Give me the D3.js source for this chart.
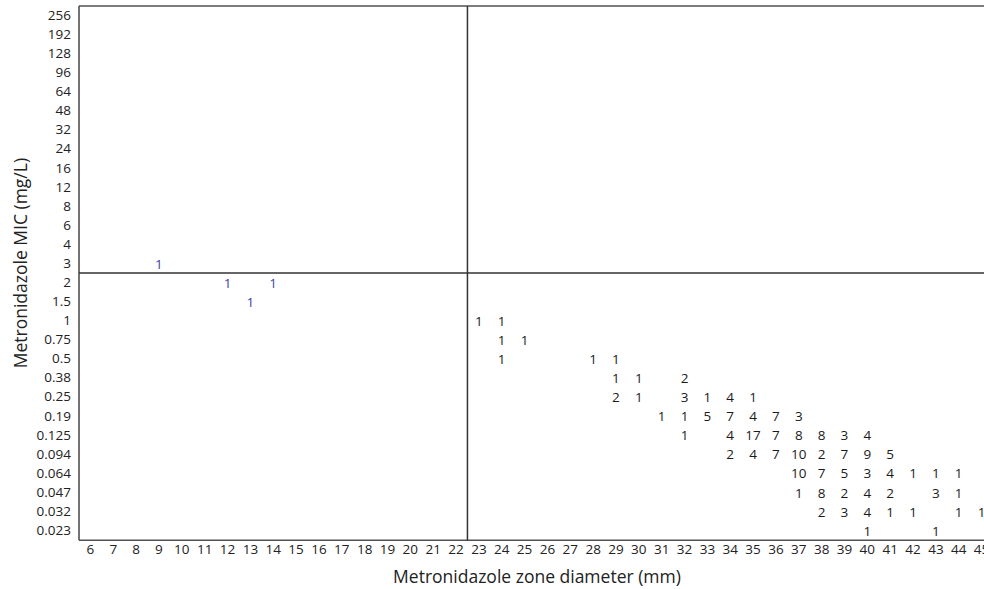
<!DOCTYPE html>
<html>
<head>
<meta charset="utf-8">
<script src="https://cdn.jsdelivr.net/npm/d3@7"></script>
<style>
  html, body { margin: 0; padding: 0; background: #fff; overflow: hidden; }
  svg { display: block; font-family: "Open Sans", "Noto Sans", sans-serif; }
</style>
</head>
<body>
<svg id="chart" width="984" height="589"></svg>
<script>
// Zone diameter categories (mm) along the bottom
const zoneDiameters = d3.range(6, 47);
// MIC categories (mg/L), listed from the top row down
const micLevels = ["256","192","128","96","64","48","32","24","16","12","8","6","4","3",
                   "2","1.5","1","0.75","0.5","0.38","0.25","0.19","0.125","0.094",
                   "0.064","0.047","0.032","0.023"];

// Isolate counts per cell: [zone diameter, MIC, count]
const resistantCounts = [
  [9, "3", 1],
  [12, "2", 1], [14, "2", 1],
  [13, "1.5", 1]
];
const susceptibleCounts = [
  [23, "1", 1], [24, "1", 1],
  [24, "0.75", 1], [25, "0.75", 1],
  [24, "0.5", 1], [28, "0.5", 1], [29, "0.5", 1],
  [29, "0.38", 1], [30, "0.38", 1], [32, "0.38", 2],
  [29, "0.25", 2], [30, "0.25", 1], [32, "0.25", 3], [33, "0.25", 1], [34, "0.25", 4], [35, "0.25", 1],
  [31, "0.19", 1], [32, "0.19", 1], [33, "0.19", 5], [34, "0.19", 7], [35, "0.19", 4], [36, "0.19", 7], [37, "0.19", 3],
  [32, "0.125", 1], [34, "0.125", 4], [35, "0.125", 17], [36, "0.125", 7], [37, "0.125", 8], [38, "0.125", 8], [39, "0.125", 3], [40, "0.125", 4],
  [34, "0.094", 2], [35, "0.094", 4], [36, "0.094", 7], [37, "0.094", 10], [38, "0.094", 2], [39, "0.094", 7], [40, "0.094", 9], [41, "0.094", 5],
  [37, "0.064", 10], [38, "0.064", 7], [39, "0.064", 5], [40, "0.064", 3], [41, "0.064", 4], [42, "0.064", 1], [43, "0.064", 1], [44, "0.064", 1],
  [37, "0.047", 1], [38, "0.047", 8], [39, "0.047", 2], [40, "0.047", 4], [41, "0.047", 2], [43, "0.047", 3], [44, "0.047", 1],
  [38, "0.032", 2], [39, "0.032", 3], [40, "0.032", 4], [41, "0.032", 1], [42, "0.032", 1], [44, "0.032", 1], [45, "0.032", 1],
  [40, "0.023", 1], [43, "0.023", 1]
];

// Breakpoints: zone diameter >= 23 mm, MIC <= 2 mg/L
const zoneBreakpoint = 23;
const micBreakpoint = "3";

const svg = d3.select("#chart");
const plotLeft = 79, plotTop = 6, cellW = 22.85, cellH = 19.08;
const labelSize = "13.5px";

const x = d3.scaleBand()
  .domain(zoneDiameters)
  .range([plotLeft, plotLeft + zoneDiameters.length * cellW]);
const y = d3.scaleBand()
  .domain(micLevels)
  .range([plotTop, plotTop + micLevels.length * cellH]);

const plotBottom = y.range()[1];

// X axis tick labels
svg.append("g")
  .attr("transform", `translate(0,${plotBottom})`)
  .call(d3.axisBottom(x).tickSize(0).tickPadding(4))
  .call(g => g.select(".domain").remove())
  .selectAll("text")
  .attr("fill", "#222").style("font-size", labelSize).style("font-family", "Open Sans");

// Y axis tick labels
svg.append("g")
  .attr("transform", `translate(${plotLeft},0)`)
  .call(d3.axisLeft(y).tickSize(0).tickPadding(8))
  .call(g => g.select(".domain").remove())
  .selectAll("text")
  .attr("fill", "#222").style("font-size", labelSize).style("font-family", "Open Sans");

// Frame: top, left and bottom edges
const frame = svg.append("g").attr("stroke", "#505050").attr("stroke-width", 1.6).attr("fill", "none");
frame.append("line").attr("x1", plotLeft).attr("x2", 984).attr("y1", plotTop).attr("y2", plotTop);
frame.append("line").attr("x1", plotLeft).attr("x2", plotLeft).attr("y1", plotTop).attr("y2", plotBottom);
frame.append("line").attr("x1", plotLeft).attr("x2", 984).attr("y1", plotBottom).attr("y2", plotBottom);

// Breakpoint dividers
const bx = x(zoneBreakpoint);
const by = y(micBreakpoint) + y.bandwidth();
const dividers = svg.append("g").attr("stroke", "#333").attr("stroke-width", 1.5);
dividers.append("line").attr("x1", bx).attr("x2", bx).attr("y1", plotTop).attr("y2", plotBottom);
dividers.append("line").attr("x1", plotLeft).attr("x2", 984).attr("y1", by).attr("y2", by);

// Cell counts
function drawCounts(data, color) {
  svg.append("g").selectAll("text")
    .data(data)
    .join("text")
    .attr("x", d => x(d[0]) + x.bandwidth() / 2)
    .attr("y", d => y(d[1]) + y.bandwidth() / 2)
    .attr("text-anchor", "middle")
    .attr("dominant-baseline", "central")
    .attr("fill", color)
    .style("font-size", labelSize)
    .text(d => d[2]);
}
drawCounts(resistantCounts, "#3b44a8");
drawCounts(susceptibleCounts, "#1a1a1a");

// Axis titles
svg.append("text")
  .attr("x", 537).attr("y", 583)
  .attr("text-anchor", "middle")
  .attr("fill", "#222")
  .style("font-size", "17.5px")
  .text("Metronidazole zone diameter (mm)");

svg.append("text")
  .attr("transform", `translate(27,${(plotTop + plotBottom) / 2 - 10}) rotate(-90)`)
  .attr("text-anchor", "middle")
  .attr("fill", "#222")
  .style("font-size", "17.5px")
  .text("Metronidazole MIC (mg/L)");
</script>
</body>
</html>
